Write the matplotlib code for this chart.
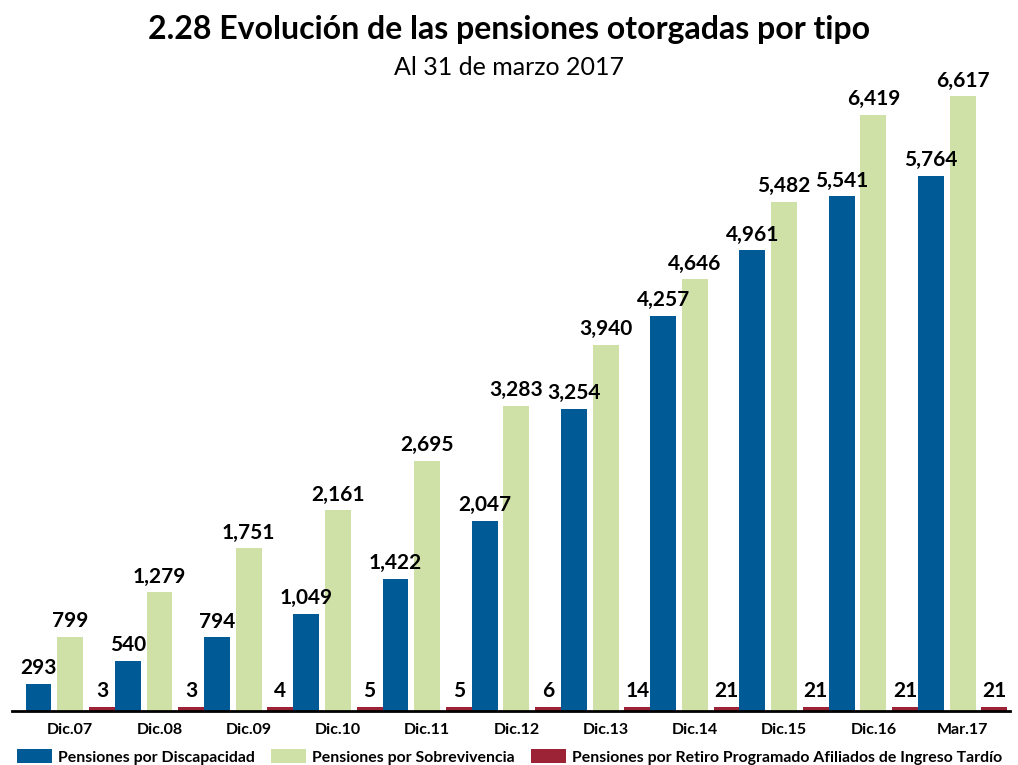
import matplotlib.pyplot as plt
import numpy as np

periods = ["Dic.07", "Dic.08", "Dic.09", "Dic.10", "Dic.11", "Dic.12",
           "Dic.13", "Dic.14", "Dic.15", "Dic.16", "Mar.17"]
discapacidad = [293, 540, 794, 1049, 1422, 2047, 3254, 4257, 4961, 5541, 5764]
sobrevivencia = [799, 1279, 1751, 2161, 2695, 3283, 3940, 4646, 5482, 6419, 6617]
retiro = [3, 3, 4, 5, 5, 6, 14, 21, 21, 21, 21]
series_names = ["Pensiones por Discapacidad", "Pensiones por Sobrevivencia",
                "Pensiones por Retiro Programado Afiliados de Ingreso Tardío"]

colors = ["#005A96", "#D0E1A8", "#9B2335"]
plt.rcParams['font.family'] = ['Lato', 'DejaVu Sans']

fig = plt.figure(figsize=(10.18, 7.65), dpi=100)
ax = fig.add_axes([0.012, 0.0706, 0.98, 0.85])

x = np.arange(len(periods))
width = 0.29
offsets = [-0.355, 0.0, 0.355]
for vals, off, col, name in zip([discapacidad, sobrevivencia, retiro], offsets, colors, series_names):
    # tiny red bars still need some visible height
    heights = [max(v, 45) for v in vals] if col == colors[2] else vals
    bars = ax.bar(x + off, heights, width, color=col, label=name)
    for b, v in zip(bars, vals):
        ax.text(b.get_x() + b.get_width() / 2, b.get_height() + 60, f"{v:,}",
                ha="center", va="bottom", fontsize=15, fontweight="bold")

ax.set_xlim(-0.65, len(periods) - 1 + 0.53)
ax.set_ylim(0, 7000)
ax.set_xticks(x)
ax.set_xticklabels(periods, fontsize=11.5, fontweight="bold")
ax.tick_params(axis="x", length=0, pad=9)
ax.set_yticks([])
for s in ["top", "right", "left"]:
    ax.spines[s].set_visible(False)
ax.spines["bottom"].set_linewidth(2)

fig.text(0.5, 0.962, "2.28 Evolución de las pensiones otorgadas por tipo",
         ha="center", va="center", fontsize=23, fontweight="bold")
fig.text(0.5, 0.912, "Al 31 de marzo 2017", ha="center", va="center", fontsize=18)

leg = fig.legend(loc="lower left", bbox_to_anchor=(0.003, -0.018), ncol=3, frameon=False,
                 prop={"size": 11.4, "weight": "bold"}, handlelength=2.2, handleheight=0.9,
                 columnspacing=1.0, handletextpad=0.4)

fig.savefig("out.png", dpi=100)
